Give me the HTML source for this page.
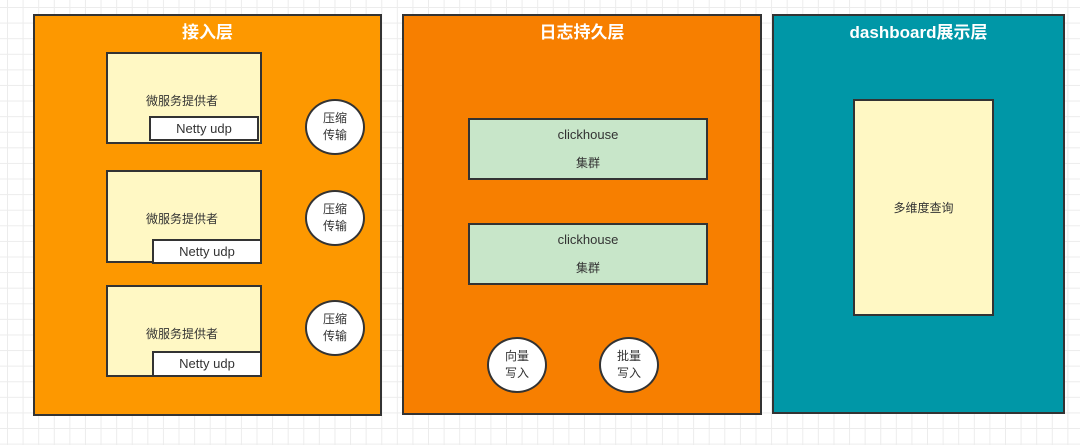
<!DOCTYPE html>
<html><head><meta charset="utf-8"><style>
body{margin:0;width:1080px;height:445px;overflow:hidden;position:relative;font-family:"Liberation Sans","Noto Sans CJK SC",sans-serif;
background-color:#fff;background-image:linear-gradient(#ececec 1px,transparent 1px),linear-gradient(90deg,#ececec 1px,transparent 1px);background-size:15.6px 15.6px;background-position:7px 7px;}
.a{position:absolute;box-sizing:border-box;border:2px solid #333;}
.t{position:absolute;color:#fff;font-size:17px;font-weight:bold;text-align:center;width:100%;top:2px}
.box{background:#fff8c4;font-size:12px;color:#333;}
.net{background:#fff;font-size:13px;color:#333;text-align:center;line-height:21px}
.c{background:#fff;border-radius:50%;font-size:12px;color:#333;display:flex;align-items:center;justify-content:center;text-align:center;line-height:17px}
.g{background:#c8e6c9;font-size:13px;color:#333;text-align:center}
</style></head><body>
<div class="a" style="left:33px;top:14px;width:349px;height:402px;background:#fd9800"><div class="t">接入层</div></div>
<div class="a" style="left:402px;top:14px;width:360px;height:401px;background:#f77f00"><div class="t">日志持久层</div></div>
<div class="a" style="left:772px;top:14px;width:293px;height:400px;background:#0097a7"><div class="t">dashboard展示层</div></div>

<div class="a box" style="left:106px;top:52px;width:156px;height:92px"><div style="position:absolute;top:38px;left:38px">微服务提供者</div></div>
<div class="a net" style="left:149px;top:116px;width:110px;height:25px">Netty udp</div>
<div class="a box" style="left:106px;top:170px;width:156px;height:93px"><div style="position:absolute;top:38px;left:38px">微服务提供者</div></div>
<div class="a net" style="left:152px;top:239px;width:110px;height:25px">Netty udp</div>
<div class="a box" style="left:106px;top:285px;width:156px;height:92px"><div style="position:absolute;top:38px;left:38px">微服务提供者</div></div>
<div class="a net" style="left:152px;top:351px;width:110px;height:26px">Netty udp</div>

<div class="a c" style="left:305px;top:99px;width:60px;height:56px">压缩<br>传输</div>
<div class="a c" style="left:305px;top:190px;width:60px;height:56px">压缩<br>传输</div>
<div class="a c" style="left:305px;top:300px;width:60px;height:56px">压缩<br>传输</div>

<div class="a g" style="left:468px;top:118px;width:240px;height:62px"><div style="margin-top:7px">clickhouse</div><div style="margin-top:12px;font-size:12px">集群</div></div>
<div class="a g" style="left:468px;top:223px;width:240px;height:62px"><div style="margin-top:7px">clickhouse</div><div style="margin-top:12px;font-size:12px">集群</div></div>
<div class="a c" style="left:487px;top:337px;width:60px;height:56px">向量<br>写入</div>
<div class="a c" style="left:599px;top:337px;width:60px;height:56px">批量<br>写入</div>

<div class="a box" style="left:853px;top:99px;width:141px;height:217px;display:flex;align-items:center;justify-content:center">多维度查询</div>
</body></html>
